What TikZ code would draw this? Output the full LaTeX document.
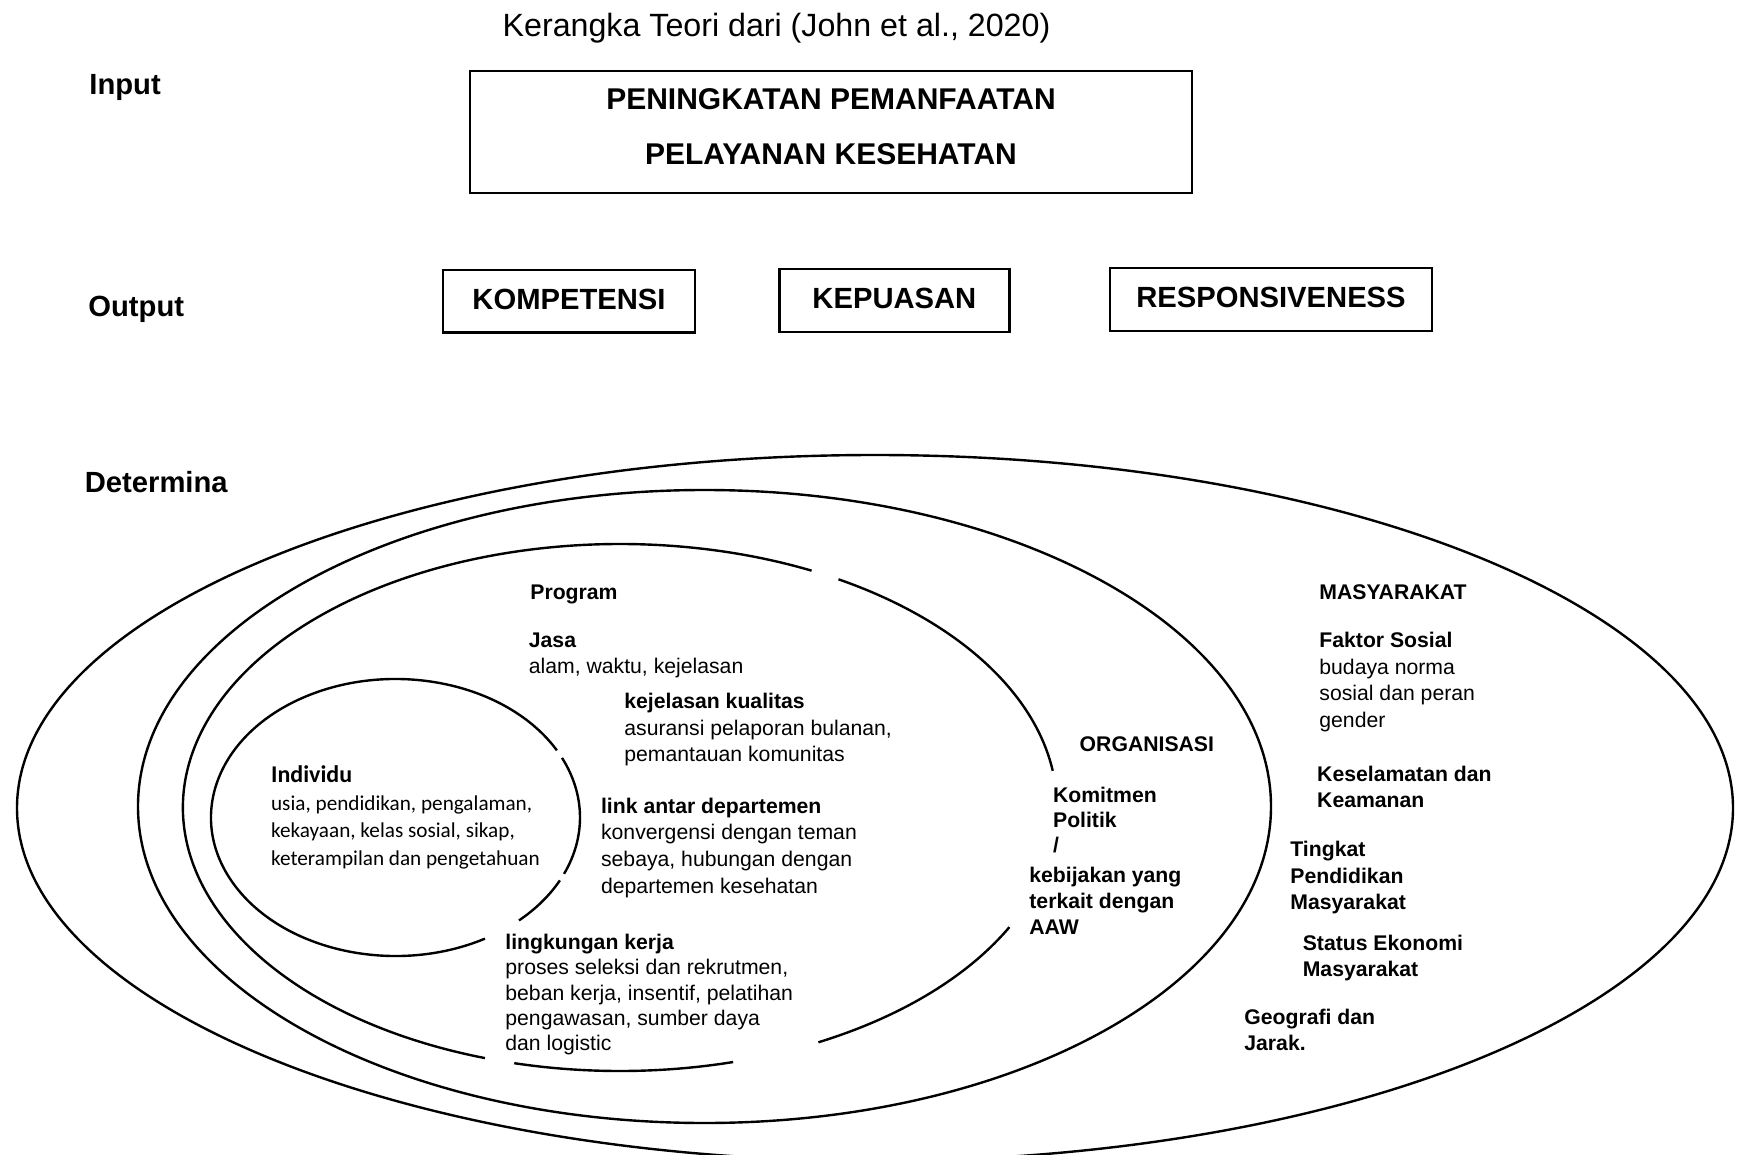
\documentclass[tikz,border=0pt]{standalone}
\usepackage{fontspec}
\setmainfont{Liberation Sans}
\newfontfamily\calibri{Carlito}
\usepackage{tikz}

\begin{document}
\begin{tikzpicture}[x=0.5pt, y=-0.5pt,
    ring/.style={black, line width=1.2pt},
    box/.style={draw=black, line width=1.1pt, inner sep=0pt, text depth=2.2pt, font=\fontsize{14.6}{17}\selectfont\bfseries},
    head/.style={anchor=base west, inner sep=0pt, font=\fontsize{14.6}{17}\selectfont\bfseries},
    txt/.style={anchor=north west, inner sep=0pt, align=left, font=\fontsize{10.6}{13.3}\selectfont},
    tb/.style={txt, font=\fontsize{10.6}{13.3}\selectfont\bfseries}]
\clip (0,0) rectangle (1741,1155);

\node[anchor=base, inner sep=0pt, font=\fontsize{16.1}{18}\selectfont] (title) at (776.5,36.5) {Kerangka Teori dari (John et al., 2020)};

\node[head] (input) at (89,95) {Input};
\node[head] (output) at (88,317) {Output};
\node[head] (determina) at (84.5,492) {Determina};

\node[box, minimum width=361pt, minimum height=61pt] (inputbox) at (831,131.7) {};
\node[align=center, inner sep=0pt, font=\fontsize{15}{27.5}\selectfont\bfseries] (inputtext) at (831,126.5) {PENINGKATAN PEMANFAATAN\\PELAYANAN KESEHATAN};

\node[box, minimum width=126pt, minimum height=31.3pt] (kompetensi) at (569,301.3) {KOMPETENSI};
\node[box, minimum width=115pt, minimum height=31.5pt] (kepuasan) at (894.4,300.2) {KEPUASAN};
\node[box, minimum width=161pt, minimum height=31.4pt] (responsiveness) at (1271,299.7) {RESPONSIVENESS};

\coordinate (masy) at (875,808);
\coordinate (org) at (704.5,806.5);
\coordinate (prog) at (620,807.5);
\coordinate (indiv) at (395.5,817.5);
\draw[ring] (masy) ellipse [x radius=858, y radius=353];
\draw[ring] (org) ellipse [x radius=566.5, y radius=316.5];
\foreach \a/\b in {27/63, 75/104, 108/296, 300/352}
  \draw[ring] (prog) ++(\a:437 and 263.5) arc [start angle=\a, end angle=\b, x radius=437, y radius=263.5];
\foreach \a/\b in {-25.5/24, 27/48, 61/331}
  \draw[ring] (indiv) ++(\a:184.5 and 138.5) arc [start angle=\a, end angle=\b, x radius=184.5, y radius=138.5];

\node[txt, font=\calibri\fontsize{10.6}{13.75}\selectfont] (individu) at (270.7,765.7) {{\fontsize{12}{13.75}\selectfont\bfseries Individu}\\usia, pendidikan, pengalaman,\\kekayaan, kelas sosial, sikap,\\keterampilan dan pengetahuan};

\node[tb] (program) at (530,585) {Program};
\node[txt, font=\fontsize{10.6}{12.7}\selectfont] (jasa) at (528.5,633) {\textbf{Jasa}\\alam, waktu, kejelasan};
\node[txt] (kualitas) at (624,693) {\textbf{kejelasan kualitas}\\asuransi pelaporan bulanan,\\pemantauan komunitas};
\node[txt] (link) at (600.7,797.5) {\textbf{link antar departemen}\\konvergensi dengan teman\\sebaya, hubungan dengan\\departemen kesehatan};
\node[txt, font=\fontsize{10.6}{12.6}\selectfont] (kerja) at (505,934) {\textbf{lingkungan kerja}\\proses seleksi dan rekrutmen,\\beban kerja, insentif, pelatihan\\pengawasan, sumber daya\\dan logistic};

\node[tb] (organisasi) at (1079.3,736) {ORGANISASI};
\node[tb, font=\fontsize{10.6}{12.5}\selectfont\bfseries] (komitmen) at (1052.7,786.7) {Komitmen\\Politik\\/};
\node[tb, font=\fontsize{10.6}{12.9}\selectfont\bfseries] (kebijakan) at (1029,867) {kebijakan yang\\terkait dengan\\AAW};

\node[tb] (masyarakat) at (1319,584.3) {MASYARAKAT};
\node[txt] (sosial) at (1319,632) {\textbf{Faktor Sosial}\\budaya norma\\sosial dan peran\\gender};
\node[tb] (keamanan) at (1316.8,765.3) {Keselamatan dan\\Keamanan};
\node[tb] (pendidikan) at (1290,841) {Tingkat\\Pendidikan\\Masyarakat};
\node[tb, font=\fontsize{10.6}{13}\selectfont\bfseries] (ekonomi) at (1302.4,935) {Status Ekonomi\\Masyarakat};
\node[tb, font=\fontsize{10.6}{13}\selectfont\bfseries] (geografi) at (1244,1009) {Geografi dan\\Jarak.};
\end{tikzpicture}
\end{document}
